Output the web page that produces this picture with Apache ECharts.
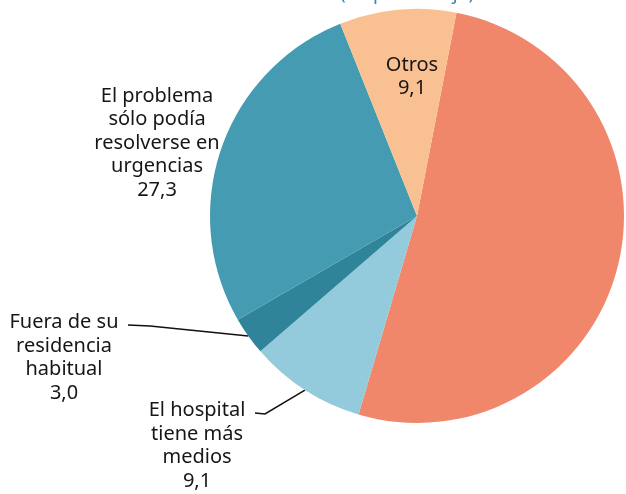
<!DOCTYPE html>
<html>
<head>
<meta charset="utf-8">
<script src="https://cdn.jsdelivr.net/npm/echarts@6/dist/echarts.min.js"></script>
<style>
  html, body { margin: 0; padding: 0; background: #fff; }
  #main { width: 626px; height: 494px; }
</style>
</head>
<body>
<div id="main"></div>
<script>
    // datos (en porcentaje)
    var categories = [
        'No coincidía\ncon el horario\ndel médico',
        'El hospital\ntiene más\nmedios',
        'Fuera de su\nresidencia\nhabitual',
        'El problema\nsólo podía\nresolverse en\nurgencias',
        'Otros'
    ];
    var values = [51.5, 9.1, 3.0, 27.3, 9.1];
    var colors = ['#f0866a', '#93cadc', '#2f849a', '#449bb2', '#f9c192'];
    var withLine = [false, true, true, false, false];

    // posición de las etiquetas (centro del bloque) y arranque de la línea guía
    var labelPlace = [
        {x: 534, y: 264},
        {x: 197, y: 446, lx: 255, ly: 413, seg: 10},
        {x: 64, y: 358, lx: 128, ly: 325, seg: 22},
        {x: 157, y: 143},
        {x: 412, y: 77}
    ];

    var myChart = echarts.init(document.getElementById('main'));

    var data = [];
    for (var i = 0; i < values.length; i++) {
        data.push({
            name: categories[i],
            value: values[i],
            itemStyle: {color: colors[i]},
            labelLine: {show: withLine[i]}
        });
    }

    myChart.setOption({
        animation: false,
        title: {
            text: '(en porcentaje)',
            left: 402,
            top: -21,
            textAlign: 'center',
            textStyle: {
                color: '#3a86b0',
                fontFamily: 'Noto Sans',
                fontSize: 19,
                fontWeight: 'normal'
            }
        },
        series: [{
            type: 'pie',
            center: [417, 216],
            radius: [0, 207],
            startAngle: 79,
            clockwise: true,
            data: data,
            label: {
                show: true,
                position: 'outside',
                color: '#161616',
                fontFamily: 'Noto Sans',
                fontSize: 20,
                lineHeight: 23.5,
                align: 'center',
                formatter: function (p) {
                    return p.name + '\n' + p.value.toFixed(1).replace('.', ',');
                }
            },
            labelLine: {
                lineStyle: {color: '#111', width: 1.5}
            },
            labelLayout: function (params) {
                var pl = labelPlace[params.dataIndex];
                var res = {x: pl.x, y: pl.y, align: 'center', verticalAlign: 'middle'};
                if (pl.lx !== undefined && params.labelLinePoints) {
                    var edge = params.labelLinePoints[0];
                    res.labelLinePoints = [[pl.lx, pl.ly], [pl.lx + pl.seg, pl.ly + 1], edge];
                }
                return res;
            }
        }]
    });
</script>
</body>
</html>
